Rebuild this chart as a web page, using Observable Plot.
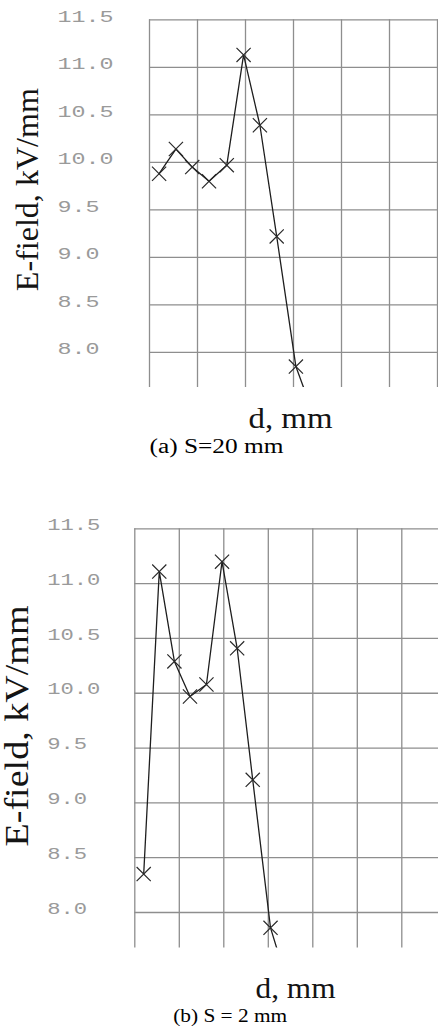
<!DOCTYPE html>
<html><head><meta charset="utf-8">
<script src="https://cdn.jsdelivr.net/npm/d3@7"></script>
<script src="https://cdn.jsdelivr.net/npm/@observablehq/plot@0.6"></script>
<style>
body{margin:0;background:#fff;width:438px;overflow:hidden;}
#chart svg{display:block;}
</style></head><body><div id="chart"></div>
<script>
// distance positions (grid units) of the computed points
const dPos = [0.2, 0.55, 0.89, 1.24, 1.61, 1.96, 2.3, 2.65, 3.05, 3.45];
// E-field values, S = 20 mm
const fieldS20 = [9.88, 10.14, 9.95, 9.80, 9.97, 11.13, 10.39, 9.22, 7.85, 7.30];
// E-field values, S = 2 mm
const fieldS2 = [8.35, 11.11, 10.29, 9.97, 10.08, 11.20, 10.41, 9.21, 7.86, 7.33];
const yTicks = [11.5, 11.0, 10.5, 10.0, 9.5, 9.0, 8.5, 8.0];
const xGrid = [0, 1, 2, 3, 4, 5, 6];
const yTitle = "E-field, kV/mm";
const xTitle = "d, mm";
const captions = ["(a) S=20 mm", "(b) S = 2 mm"];

function panel(values, caption, c) {
  const data = dPos.map((d, i) => ({d, e: values[i]}));
  const svg = Plot.plot({
    width: 438, height: c.height,
    marginTop: c.mt, marginBottom: c.mb, marginLeft: c.ml, marginRight: 0,
    x: {domain: [0, c.xmax], axis: null},
    y: {domain: [c.ymin, 11.5], axis: null},
    style: {background: "#fff", overflow: "visible"},
    marks: [
      Plot.gridX(xGrid, {stroke: "#8e8e8e", strokeOpacity: 1, strokeWidth: 1.3}),
      Plot.gridY(yTicks, {stroke: "#8e8e8e", strokeOpacity: 1, strokeWidth: 1.3}),
      Plot.line(data, {x: "d", y: "e", stroke: "#1e1e1e", strokeWidth: 1.3, clip: true}),
      Plot.dot(data, {x: "d", y: "e", symbol: "times", r: 6.5, stroke: "#2a2a2a", strokeWidth: 1.2, clip: true}),
      Plot.text(yTicks, {y: d => d, text: d => d.toFixed(1), frameAnchor: "left", textAnchor: "start",
        dx: c.tickDx, dy: c.tickDy, fontFamily: "Liberation Mono", fontSize: 16, fill: "#9a9a9a"}),
      Plot.text([yTitle], {text: d => d, frameAnchor: "left", textAnchor: "middle", rotate: -90, lineAnchor: "bottom",
        dx: c.ytDx, dy: c.ytDy, fontFamily: "Liberation Serif", fontSize: c.ytSize, fill: "#141414"}),
      Plot.text([xTitle], {text: d => d, frameAnchor: "bottom", textAnchor: "middle", lineAnchor: "bottom",
        dx: c.xtDx, dy: c.xtDy, fontFamily: "Liberation Serif", fontSize: 30, fill: "#141414"}),
      Plot.text([caption], {text: d => d, frameAnchor: "bottom", textAnchor: "middle", lineAnchor: "bottom",
        dx: c.capDx, dy: c.capDy, fontFamily: "Liberation Serif", fontSize: c.capSize, fill: "#000"})
    ]
  });
  const s = d3.select(svg);
  s.selectAll('g[font-family="Liberation Mono"] text').each(function () {
    this.setAttribute("textLength", this.textContent.length * c.charW);
    this.setAttribute("lengthAdjust", "spacingAndGlyphs");
  });
  const lens = {[yTitle]: c.ytLen, [xTitle]: c.xtLen, [caption]: c.capLen};
  s.selectAll('g[font-family="Liberation Serif"] text').each(function () {
    const L = lens[this.textContent];
    if (L) { this.setAttribute("textLength", L); this.setAttribute("lengthAdjust", "spacingAndGlyphs"); }
  });
  return svg;
}

const root = document.getElementById("chart");
root.appendChild(panel(fieldS20, captions[0], {
  height: 462, mt: 19.3, mb: 75, ml: 149, xmax: 289 / 48, ymin: 7.63,
  tickDx: -92, tickDy: -3, charW: 14,
  ytDx: -112, ytDy: -14, ytSize: 32, ytLen: 203,
  xtDx: -3.5, xtDy: 40, xtLen: 84,
  capDx: -77.5, capDy: 65, capSize: 20, capLen: 134
}));
root.appendChild(panel(fieldS2, captions[1], {
  height: 568, mt: 66.3, mb: 82.5, ml: 134.3, xmax: 303.7 / 44.5, ymin: 7.676,
  tickDx: -87.6, tickDy: -4, charW: 13.3,
  ytDx: -106.8, ytDy: -12.4, ytSize: 33, ytLen: 241,
  xtDx: 8.85, xtDy: 49.5, xtLen: 80,
  capDx: -56.45, capDy: 73.5, capSize: 19, capLen: 114
}));
</script>
</body></html>
